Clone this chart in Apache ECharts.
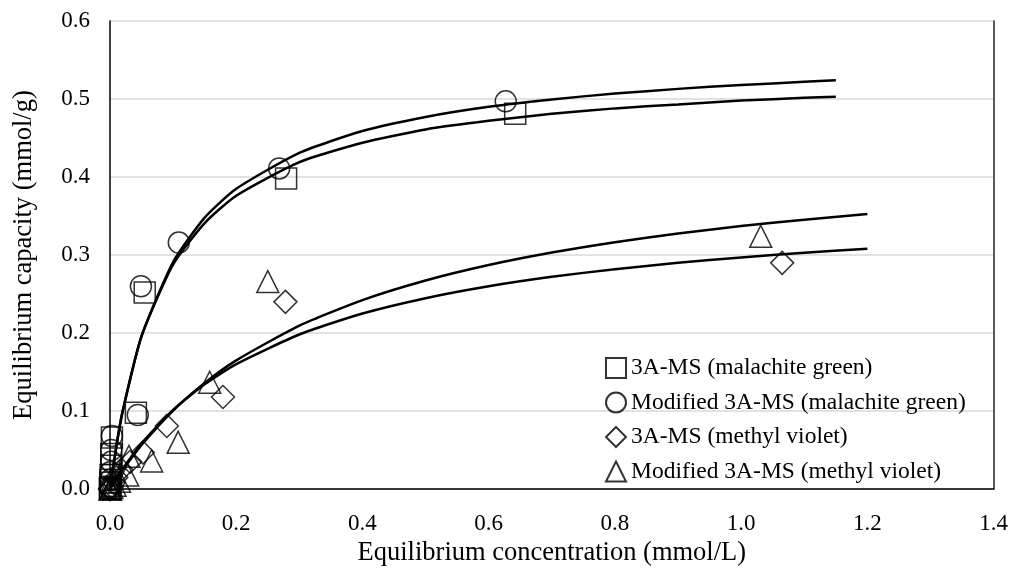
<!DOCTYPE html>
<html>
<head>
<meta charset="utf-8">
<script src="https://cdn.jsdelivr.net/npm/echarts@6/dist/echarts.min.js"></script>
<style>
  html, body { margin: 0; padding: 0; background: #fff; }
  #main { width: 1011px; height: 572px; }
</style>
</head>
<body>
<div id="main"></div>
<script>
// measured points, x = equilibrium concentration, y = capacity
var sqX  = [0.642, 0.279, 0.055, 0.041, 0.003, 0.002, 0.002, 0.001, 0.001, 0.000, 0.000, 0.001];
var sqY  = [0.481, 0.398, 0.252, 0.098, 0.066, 0.045, 0.030, 0.018, 0.008, 0.002, 0.000, 0.012];
var cirX = [0.627, 0.268, 0.109, 0.049, 0.044, 0.003, 0.002, 0.002, 0.001, 0.001, 0.000, 0.000];
var cirY = [0.497, 0.411, 0.316, 0.260, 0.095, 0.068, 0.050, 0.035, 0.022, 0.012, 0.003, 0.000];
var diaX = [1.065, 0.278, 0.179, 0.090, 0.052, 0.032, 0.018, 0.010, 0.006, 0.003, 0.001, 0.000];
var diaY = [0.290, 0.240, 0.118, 0.081, 0.047, 0.035, 0.025, 0.015, 0.008, 0.003, 0.001, 0.000];
var triX = [1.031, 0.250, 0.158, 0.108, 0.066, 0.030, 0.028, 0.015, 0.008, 0.003, 0.001, 0.000];
var triY = [0.324, 0.266, 0.137, 0.060, 0.036, 0.042, 0.018, 0.010, 0.005, 0.002, 0.000, 0.000];

// fitted curves
var mgFitX   = [0, 0.01, 0.02, 0.05, 0.1, 0.15, 0.2, 0.3, 0.4, 0.5, 0.6, 0.7, 0.8, 0.9, 1.0, 1.1, 1.15];
var mgModFit = [0, 0.054, 0.099, 0.196, 0.291, 0.348, 0.385, 0.431, 0.459, 0.477, 0.490, 0.4995, 0.507, 0.513, 0.518, 0.522, 0.524];
var mg3AFit  = [0, 0.055, 0.100, 0.196, 0.288, 0.341, 0.376, 0.419, 0.444, 0.461, 0.472, 0.481, 0.488, 0.493, 0.498, 0.5015, 0.503];
var mvFitX   = [0, 0.01, 0.02, 0.05, 0.1, 0.15, 0.2, 0.3, 0.4, 0.5, 0.6, 0.7, 0.8, 0.9, 1.0, 1.1, 1.2];
var mvModFit = [0, 0.0126, 0.0245, 0.0566, 0.1007, 0.136, 0.165, 0.2096, 0.2423, 0.2674, 0.2872, 0.3032, 0.3165, 0.3277, 0.3372, 0.3453, 0.3525];
var mv3AFit  = [0, 0.0134, 0.0259, 0.0587, 0.1016, 0.1344, 0.1602, 0.1982, 0.225, 0.2447, 0.26, 0.2721, 0.2819, 0.2901, 0.297, 0.3029, 0.308];

var names = ['3A-MS (malachite green)', 'Modified 3A-MS (malachite green)',
             '3A-MS (methyl violet)', 'Modified 3A-MS (methyl violet)'];

function pairs(xs, ys) {
  return xs.map(function (x, i) { return [x, ys[i]]; });
}

var font = 'Liberation Serif';
var hollow = { color: 'rgba(0,0,0,0)', borderColor: '#000', borderWidth: 1.5 };

function scatter(name, symbol, size, xs, ys) {
  return {
    name: name, type: 'scatter', symbol: symbol, symbolSize: size,
    itemStyle: hollow, data: pairs(xs, ys), z: 3
  };
}
function fit(xs, ys) {
  return {
    type: 'line', data: pairs(xs, ys), showSymbol: false, smooth: 0.2,
    lineStyle: { color: '#000', width: 2.5 }, silent: true, z: 2
  };
}

var myChart = echarts.init(document.getElementById('main'));
var option = {
  backgroundColor: '#fff',
  animation: false,
  textStyle: { fontFamily: font, color: '#000' },
  grid: { left: 110, right: 17, top: 21, bottom: 82 },
  legend: {
    data: names,
    orient: 'vertical',
    left: 600, top: 351,
    itemWidth: 20, itemHeight: 20, itemGap: 10.5,
    textStyle: { fontFamily: font, fontSize: 23.5, color: '#000' }
  },
  xAxis: {
    type: 'value', min: 0, max: 1.4, interval: 0.2,
    name: 'Equilibrium concentration (mmol/L)',
    nameLocation: 'middle', nameGap: 47,
    nameTextStyle: { fontFamily: font, fontSize: 26.5, color: '#000' },
    axisLine: { lineStyle: { color: '#000', width: 1.5 } },
    axisTick: { show: false },
    splitLine: { show: false },
    axisLabel: { fontFamily: font, fontSize: 23, color: '#000', margin: 23,
      formatter: function (v) { return v.toFixed(1); } }
  },
  yAxis: [{
    type: 'value', min: 0, max: 0.6, interval: 0.1,
    name: 'Equilibrium capacity (mmol/g)',
    nameLocation: 'middle', nameGap: 72,
    nameTextStyle: { fontFamily: font, fontSize: 26.5, color: '#000' },
    axisLine: { show: true, lineStyle: { color: '#000', width: 1.5 } },
    axisTick: { show: false },
    splitLine: { lineStyle: { color: '#d9d9d9', width: 1.5 } },
    axisLabel: { fontFamily: font, fontSize: 23, color: '#000', margin: 20,
      formatter: function (v) { return v.toFixed(1); } }
  }, {
    type: 'value', min: 0, max: 0.6, interval: 0.1, position: 'right',
    axisLine: { show: true, lineStyle: { color: '#222', width: 1.5 } },
    axisTick: { show: false }, axisLabel: { show: false }, splitLine: { show: false }
  }],
  series: [
    fit(mgFitX, mgModFit),
    fit(mgFitX, mg3AFit),
    fit(mvFitX, mvModFit),
    fit(mvFitX, mv3AFit),
    scatter(names[0], 'rect', 21, sqX, sqY),
    scatter(names[1], 'circle', 21, cirX, cirY),
    scatter(names[2], 'diamond', 23, diaX, diaY),
    scatter(names[3], 'triangle', 22, triX, triY)
  ]
};
myChart.setOption(option);
</script>
</body>
</html>
